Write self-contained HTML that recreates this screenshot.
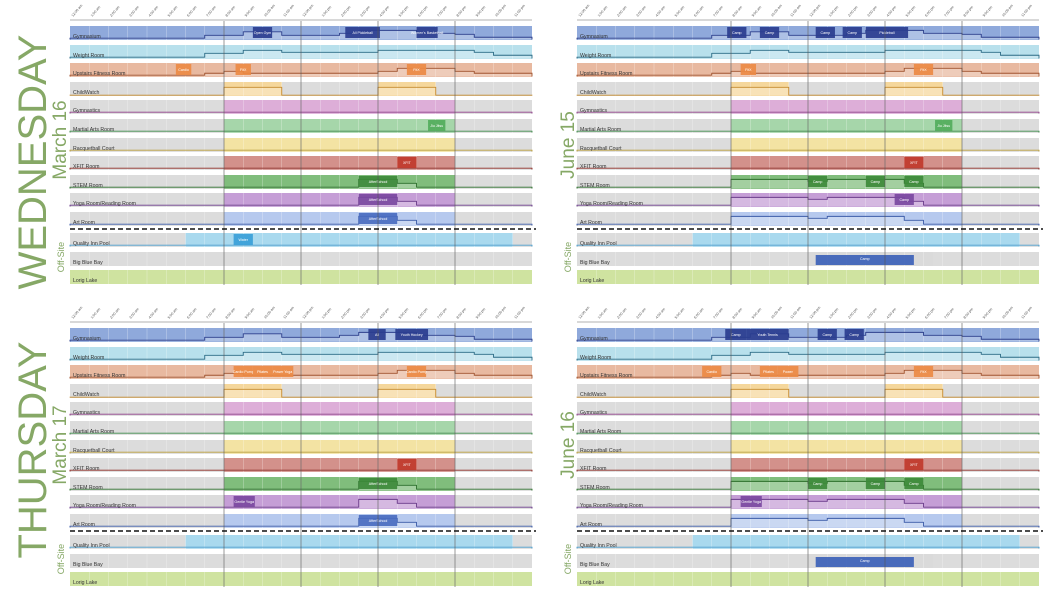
<!DOCTYPE html>
<html><head><meta charset="utf-8"><style>
body{margin:0;background:#fff;}
svg{display:block;font-family:"Liberation Sans",sans-serif;}
</style></head><body>
<svg id="chart" width="1050" height="597" viewBox="0 0 1050 597" xmlns="http://www.w3.org/2000/svg">
<g>
<text x="46" y="162" transform="rotate(-90 46 162)" text-anchor="middle" font-size="40" fill="#86a866">WEDNESDAY</text>
<text x="66" y="140" transform="rotate(-90 66 140)" text-anchor="middle" font-size="19" fill="#86a866">March 16</text>
</g>
<g>
<text x="46" y="450" transform="rotate(-90 46 450)" text-anchor="middle" font-size="40" fill="#86a866">THURSDAY</text>
<text x="66" y="445" transform="rotate(-90 66 445)" text-anchor="middle" font-size="19" fill="#86a866">March 17</text>
</g>
<text x="574" y="145" transform="rotate(-90 574 145)" text-anchor="middle" font-size="19" fill="#86a866">June 15</text>
<text x="574" y="445" transform="rotate(-90 574 445)" text-anchor="middle" font-size="19" fill="#86a866">June 16</text>
</svg>
<script>
const tickLabels=["12:00 am","1:00 am","2:00 am","3:00 am","4:00 am","5:00 am","6:00 am","7:00 am","8:00 am","9:00 am","10:00 am","11:00 am","12:00 pm","1:00 pm","2:00 pm","3:00 pm","4:00 pm","5:00 pm","6:00 pm","7:00 pm","8:00 pm","9:00 pm","10:00 pm","11:00 pm"];
const rooms=["Gymnasium","Weight Room","Upstairs Fitness Room","ChildWatch","Gymnastics","Martial Arts Room","Racquetball Court","XFIT Room","STEM Room","Yoga Room/Reading Room","Art Room","Quality Inn Pool","Big Blue Bay","Lorig Lake"];
const roomColors=["#8fa9db","#b8e0ec","#e8b9a0","#f5d79c","#ddaed8","#a6d6aa","#f3e3a3","#d3918b","#80bd7c","#c59ed6","#b6c9ee","#a9d9ee","#dadada","#cfe3a0"];
const lineColors=["#2c3f8c","#2b6b86","#a0532e","#c68a2d","#8d3f88","#3f8a4b","#b89c3a","#8c2b25","#2b6e2a","#6a3a8a","#3a5aa8","#4a9ccb","#777","#7c9c3a"];
const eventColors=["#2a3d8f","#2b6b86","#ec8a44","#c68a2d","#8d3f88","#52ad5c","#b89c3a","#c0392b","#3d8a3a","#7a48a0","#4a6cc0","#3aa0d8","#3d62b8","#7c9c3a"];
const openWed=[[0,24],[0,24],[0,24],[8,11],[8,20],[8,20],[8,20],[8,20],[8,20],[8,20],[8,20],[6,23],null,[0,24]];
const openThu=[[0,24],[0,24],[0,24],[8,11],[8,20],[8,20],[8,20],[8,20],[8,20],[8,20],[8,20],[6,23],null,[0,24]];
const openJ15=[[0,24],[0,24],[0,24],[8,11],[8,20],[8,20],[8,20],[8,20],[8,20],[8,20],[8,20],[6,23],[12,18.5],[0,24]];
const openJ16=[[0,24],[0,24],[0,24],[8,11],[8,20],[8,20],[8,20],[8,20],[8,20],[8,20],[8,20],[6,23],[12,18.5],[0,24]];
const childSecond=[16,19];
const occGym=[[0,0.1],[7,0.4],[9,0.75],[11,0.4],[14,0.6],[15,0.9],[18,0.6],[20,0.5],[21,0.2],[24,0.2]];
const occWeight=[[0,0.1],[7,0.5],[9,0.8],[11,0.6],[15,0.6],[16,0.8],[21,0.6],[22,0.3],[24,0.3]];
const occUpstairs=[[0,0.1],[7,0.3],[8,0.5],[9,0.3],[10,0.3],[11,0.3],[15,0.3],[16,0.5],[17,0.8],[20,0.5],[21,0.3],[24,0.3]];
const occChild=[[0,0],[8,0.8],[11,0],[16,0.8],[19,0],[24,0]];
const occFlat=[[0,0.1],[24,0.1]];
const occSchool=[[0,0.1],[15,0.9],[17,0.5],[18,0.1],[24,0.1]];
const occJune=[[0,0.1],[8,0.9],[12,0.7],[13,0.9],[17,0.5],[18,0.1],[24,0.1]];
const evWed=[[0,9.5,10.5,"Open Gym"],[0,14.3,16.1,"All Pickleball"],[0,18,19.1,"Women's Basketball"],[2,5.5,6.3,"Cardio"],[2,8.6,9.4,"FitX"],[2,17.5,18.5,"FitX"],[5,18.6,19.5,"Jiu Jitsu"],[7,17,18,"XFIT"],[8,15,17,"AfterSchool"],[9,15,17,"AfterSchool"],[10,15,17,"AfterSchool"],[11,8.5,9.5,"Water"]];
const evThu=[[0,15.5,16.4,"All"],[0,16.9,18.6,"Youth Hockey"],[2,8.5,9.5,"Cardio Pump"],[2,9.5,10.5,"Pilates"],[2,10.5,11.6,"Power Yoga"],[2,17.5,18.5,"Cardio Pump"],[7,17,18,"XFIT"],[8,15,17,"AfterSchool"],[9,8.5,9.6,"Gentle Yoga"],[10,15,17,"AfterSchool"]];
const evJ15=[[0,7.8,8.8,"Camp"],[0,9.5,10.5,"Camp"],[0,12.4,13.4,"Camp"],[0,13.8,14.8,"Camp"],[0,15,17.2,"Pickleball"],[2,8.5,9.3,"FitX"],[2,17.5,18.5,"FitX"],[5,18.6,19.5,"Jiu Jitsu"],[7,17,18,"XFIT"],[8,12,13,"Camp"],[8,15,16,"Camp"],[8,17,18,"Camp"],[9,16.5,17.5,"Camp"],[12,12.4,17.5,"Camp"]];
const evJ16=[[0,7.7,8.8,"Camp"],[0,8.8,11,"Youth Tennis"],[0,12.5,13.5,"Camp"],[0,13.9,14.9,"Camp"],[2,6.5,7.5,"Cardio"],[2,9.5,10.4,"Pilates"],[2,10.4,11.5,"Power"],[2,17.5,18.5,"FitX"],[7,17,18,"XFIT"],[8,12,13,"Camp"],[8,15,16,"Camp"],[8,17,18,"Camp"],[9,8.5,9.6,"Gentle Yoga"],[12,12.4,17.5,"Camp"]];

const rowOffsets=[0,19,37,56,74,93,112,130,149,167,186,207,226,244];
const NS="http://www.w3.org/2000/svg";
const svg=document.getElementById('chart');
function mk(tag,attrs,parent){const e=document.createElementNS(NS,tag);for(const k in attrs)e.setAttribute(k,attrs[k]);parent.appendChild(e);return e;}
function drawPanel(name,x0,y0,open,events,juneMode){
  const g=mk('g',{},svg);
  
  
  const W=462,hx=h=>x0+h*W/24;
  const ax=mk('line',{x1:x0,x2:x0+W,y1:y0+20,y2:y0+20,stroke:'#999','stroke-width':0.8},g);
  
  
  tickLabels.forEach((t,i)=>{
    const tx=hx(i)+3,ty=y0+17;
    const el=mk('text',{x:tx,y:ty,'font-size':3.6,fill:'#555',transform:`rotate(-50 ${tx} ${ty})`},g);
    el.textContent=t;
    
    
  });
  const occs=[occGym,occWeight,occUpstairs,occChild,occFlat,occFlat,occFlat,occFlat,juneMode?occJune:occSchool,juneMode?occJune:occSchool,juneMode?occJune:occSchool,occFlat,occFlat,occFlat];
  rooms.forEach((r,i)=>{
    const top=y0+26+rowOffsets[i],h=14,bot=top+h;
    const rg=mk('g',{},g);
    
    
    mk('rect',{x:x0,y:top,width:W,height:h,fill:'#dcdcdc'},rg);
    const segs=[];
    if(open[i])segs.push(open[i]);
    if(i===3)segs.push(childSecond);
    segs.forEach(s=>{
      const b=mk('rect',{x:hx(s[0]),y:top,width:hx(s[1])-hx(s[0]),height:h,fill:roomColors[i]},rg);
      
      
    });
    for(let k=1;k<24;k++)mk('line',{x1:hx(k),x2:hx(k),y1:top,y2:bot,stroke:'#fff','stroke-width':0.4,opacity:0.6},rg);
    if(i<12){
      const occ=occs[i];let d=`M${x0},${bot-0.5}`;
      for(let k=0;k<occ.length;k++){
        const y=bot-0.8-occ[k][1]*h*0.7;
        d+=` L${hx(occ[k][0])},${k===0?y:bot-0.8-occ[k-1][1]*h*0.7} L${hx(occ[k][0])},${y}`;
      }
      d+=` L${x0+W},${bot-0.5}`;
      const area=mk('path',{d:d+' Z',fill:'#fff',opacity:0.28},rg);
      
      
      const ln=mk('path',{d:d,fill:'none',stroke:lineColors[i],'stroke-width':0.9},rg);
      
      
    }
    const lb=mk('text',{x:x0+3,y:bot-2,'font-size':5.2,fill:'#333'},rg);
    lb.textContent=r;
    
    
  });
  events.forEach(e=>{
    const top=y0+26+rowOffsets[e[0]];
    const r=mk('rect',{x:hx(e[1]),y:top+(e[0]===12?3:1),width:hx(e[2])-hx(e[1]),height:e[0]===12?10:11,fill:eventColors[e[0]],opacity:0.92},g);
    
    
    const t=mk('text',{x:(hx(e[1])+hx(e[2]))/2,y:top+8,'font-size':3.6,fill:'#fff','text-anchor':'middle'},g);
    t.textContent=e[3];
    
    
  });
  [8,12,16,20].forEach(hh=>mk('line',{x1:hx(hh),x2:hx(hh),y1:y0+21,y2:y0+285,stroke:'#555','stroke-width':0.6},g));
  const dl=mk('line',{x1:x0,x2:x0+W+4,y1:y0+229,y2:y0+229,stroke:'#111','stroke-width':1.6,'stroke-dasharray':'5,3'},g);
  
  
  const os=mk('text',{x:x0-6,y:y0+257,'font-size':9,fill:'#86a866','text-anchor':'middle',transform:`rotate(-90 ${x0-6} ${y0+257})`},g);
  os.textContent='Off-Site';
  
  
}
drawPanel('panel-wednesday-march-16',70,0,openWed,evWed,false);
drawPanel('panel-june-15',577,0,openJ15,evJ15,true);
drawPanel('panel-thursday-march-17',70,302,openThu,evThu,false);
drawPanel('panel-june-16',577,302,openJ16,evJ16,true);
</script>
</body></html>
